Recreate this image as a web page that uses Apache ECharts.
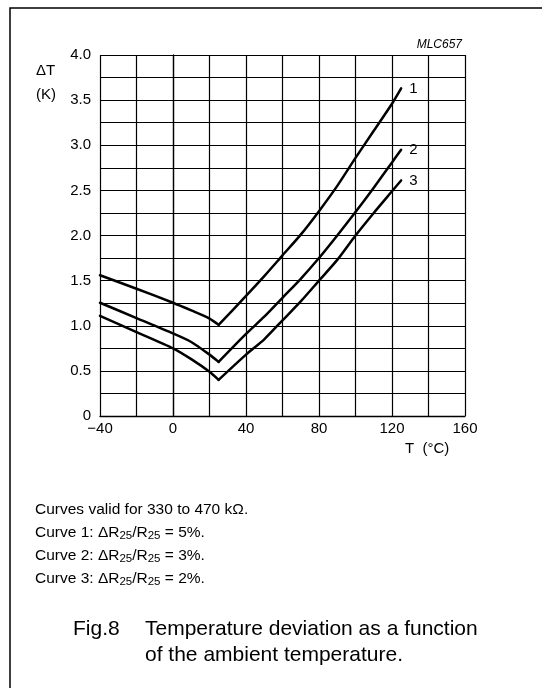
<!DOCTYPE html>
<html>
<head>
<meta charset="utf-8">
<script src="https://cdn.jsdelivr.net/npm/echarts@6/dist/echarts.min.js"></script>
<style>
html,body{margin:0;padding:0;background:#fff;}
#chart{width:542px;height:688px;}
</style>
</head>
<body>
<div id="chart"></div>
<script>
// Temperature T (°C) at which curves were read
var temps = [-40, -20, 0, 10, 20, 25, 40, 50, 60, 70, 80, 90, 100, 110, 120, 125];
// index of the V-shaped minimum (T = 25 °C)
var apexIndex = 5;
// ΔT (K) values for each curve
var curve1 = [1.56, 1.41, 1.255, 1.17, 1.08, 1.01, 1.33, 1.55, 1.78, 2.01, 2.27, 2.55, 2.86, 3.16, 3.46, 3.63];
var curve2 = [1.255, 1.085, 0.915, 0.82, 0.68, 0.60, 0.91, 1.10, 1.31, 1.52, 1.75, 2.00, 2.26, 2.53, 2.81, 2.95];
var curve3 = [1.11, 0.93, 0.75, 0.63, 0.49, 0.40, 0.68, 0.85, 1.06, 1.27, 1.50, 1.73, 2.00, 2.25, 2.49, 2.61];
var curveNames = ['1', '2', '3'];
// tick labels
var xTickValues = [-40, 0, 40, 80, 120, 160];
var xTickLabels = ['\u221240', '0', '40', '80', '120', '160'];
var yTickValues = [0, 0.5, 1, 1.5, 2, 2.5, 3, 3.5, 4];
var yTickLabels = ['0', '0.5', '1.0', '1.5', '2.0', '2.5', '3.0', '3.5', '4.0'];
// texts
var notes = [
  'Curves valid for 330 to 470 k\u03A9.',
  '{n|Curve 1: \u0394R}{s|25}{n|/R}{s|25}{n| = 5%.}',
  '{n|Curve 2: \u0394R}{s|25}{n|/R}{s|25}{n| = 3%.}',
  '{n|Curve 3: \u0394R}{s|25}{n|/R}{s|25}{n| = 2%.}'
];

var FONT = '"Liberation Sans", Arial, Helvetica, sans-serif';

function pairs(vals, from, to) {
  var out = [];
  for (var i = from; i <= to; i++) out.push([temps[i], vals[i]]);
  return out;
}
function lookup(values, labels, v) {
  for (var i = 0; i < values.length; i++) {
    if (Math.abs(values[i] - v) < 1e-6) return labels[i];
  }
  return '';
}

var chart = echarts.init(document.getElementById('chart'), null, {renderer: 'canvas'});

var lineStyle = {color: '#000', width: 2.5, cap: 'round', join: 'round'};
var series = [];
[curve1, curve2, curve3].forEach(function (c, i) {
  // falling branch (−40 … 25 °C)
  series.push({
    type: 'line',
    name: curveNames[i] + 'a',
    data: pairs(c, 0, apexIndex),
    showSymbol: false, symbol: 'none',
    smooth: 0.25,
    silent: true, animation: false,
    lineStyle: lineStyle
  });
  // rising branch (25 … 125 °C)
  series.push({
    type: 'line',
    name: curveNames[i],
    data: pairs(c, apexIndex, temps.length - 1),
    showSymbol: false, symbol: 'none',
    smooth: 0.25,
    silent: true, animation: false,
    lineStyle: lineStyle,
    endLabel: {
      show: true,
      formatter: curveNames[i],
      color: '#000',
      fontFamily: FONT,
      fontSize: 15,
      distance: 8
    }
  });
});

var graphics = [
  {type: 'rect', shape: {x: 10, y: 8, width: 620, height: 720}, style: {fill: 'none', stroke: '#000', lineWidth: 1.5}, silent: true},
  {type: 'text', left: 36, top: 63, style: {text: '\u0394T', font: '15px ' + FONT, fill: '#000'}},
  {type: 'text', left: 36, top: 87, style: {text: '(K)', font: '15px ' + FONT, fill: '#000'}},
  {type: 'text', right: 80, top: 39, style: {text: 'MLC657', font: 'italic 12px ' + FONT, fill: '#000'}},
  {type: 'text', left: 405, top: 441, style: {text: 'T  (\u00B0C)', font: '15px ' + FONT, fill: '#000'}},
  {type: 'text', left: 73, top: 619, style: {text: 'Fig.8', font: '21px ' + FONT, fill: '#000'}},
  {type: 'text', left: 145, top: 619, style: {text: 'Temperature deviation as a function', font: '21px ' + FONT, fill: '#000'}},
  {type: 'text', left: 145, top: 645, style: {text: 'of the ambient temperature.', font: '21px ' + FONT, fill: '#000'}}
];
var noteY = [502, 525, 548, 571];
notes.forEach(function (t, i) {
  graphics.push({
    type: 'text', left: 35, top: noteY[i],
    style: {
      text: t,
      font: '15.5px ' + FONT,
      fill: '#000',
      rich: {
        n: {fontSize: 15.5, fontFamily: FONT, color: '#000', lineHeight: 18},
        s: {fontSize: 11.5, fontFamily: FONT, color: '#000', lineHeight: 9, verticalAlign: 'bottom'}
      }
    }
  });
});

chart.setOption({
  animation: false,
  backgroundColor: '#fff',
  grid: {left: 100, top: 55, right: 77, bottom: 272, show: false},
  xAxis: {
    type: 'value',
    min: -40, max: 160, interval: 20,
    axisLine: {show: true, lineStyle: {color: '#000', width: 1.3}},
    axisTick: {show: false},
    splitLine: {show: true, lineStyle: {color: '#000', width: 1.2}},
    axisLabel: {
      color: '#000', fontFamily: FONT, fontSize: 15, margin: 5,
      showMinLabel: true, showMaxLabel: true,
      formatter: function (v) { return lookup(xTickValues, xTickLabels, v); }
    }
  },
  yAxis: {
    type: 'value',
    min: 0, max: 4, interval: 0.25,
    axisLine: {show: true, lineStyle: {color: '#000', width: 1.3}},
    axisTick: {show: false},
    splitLine: {show: true, lineStyle: {color: '#000', width: 1.2}},
    axisLabel: {
      color: '#000', fontFamily: FONT, fontSize: 15, margin: 9,
      showMinLabel: true, showMaxLabel: true,
      formatter: function (v) { return lookup(yTickValues, yTickLabels, v); }
    }
  },
  series: series,
  graphic: graphics
});
</script>
</body>
</html>
